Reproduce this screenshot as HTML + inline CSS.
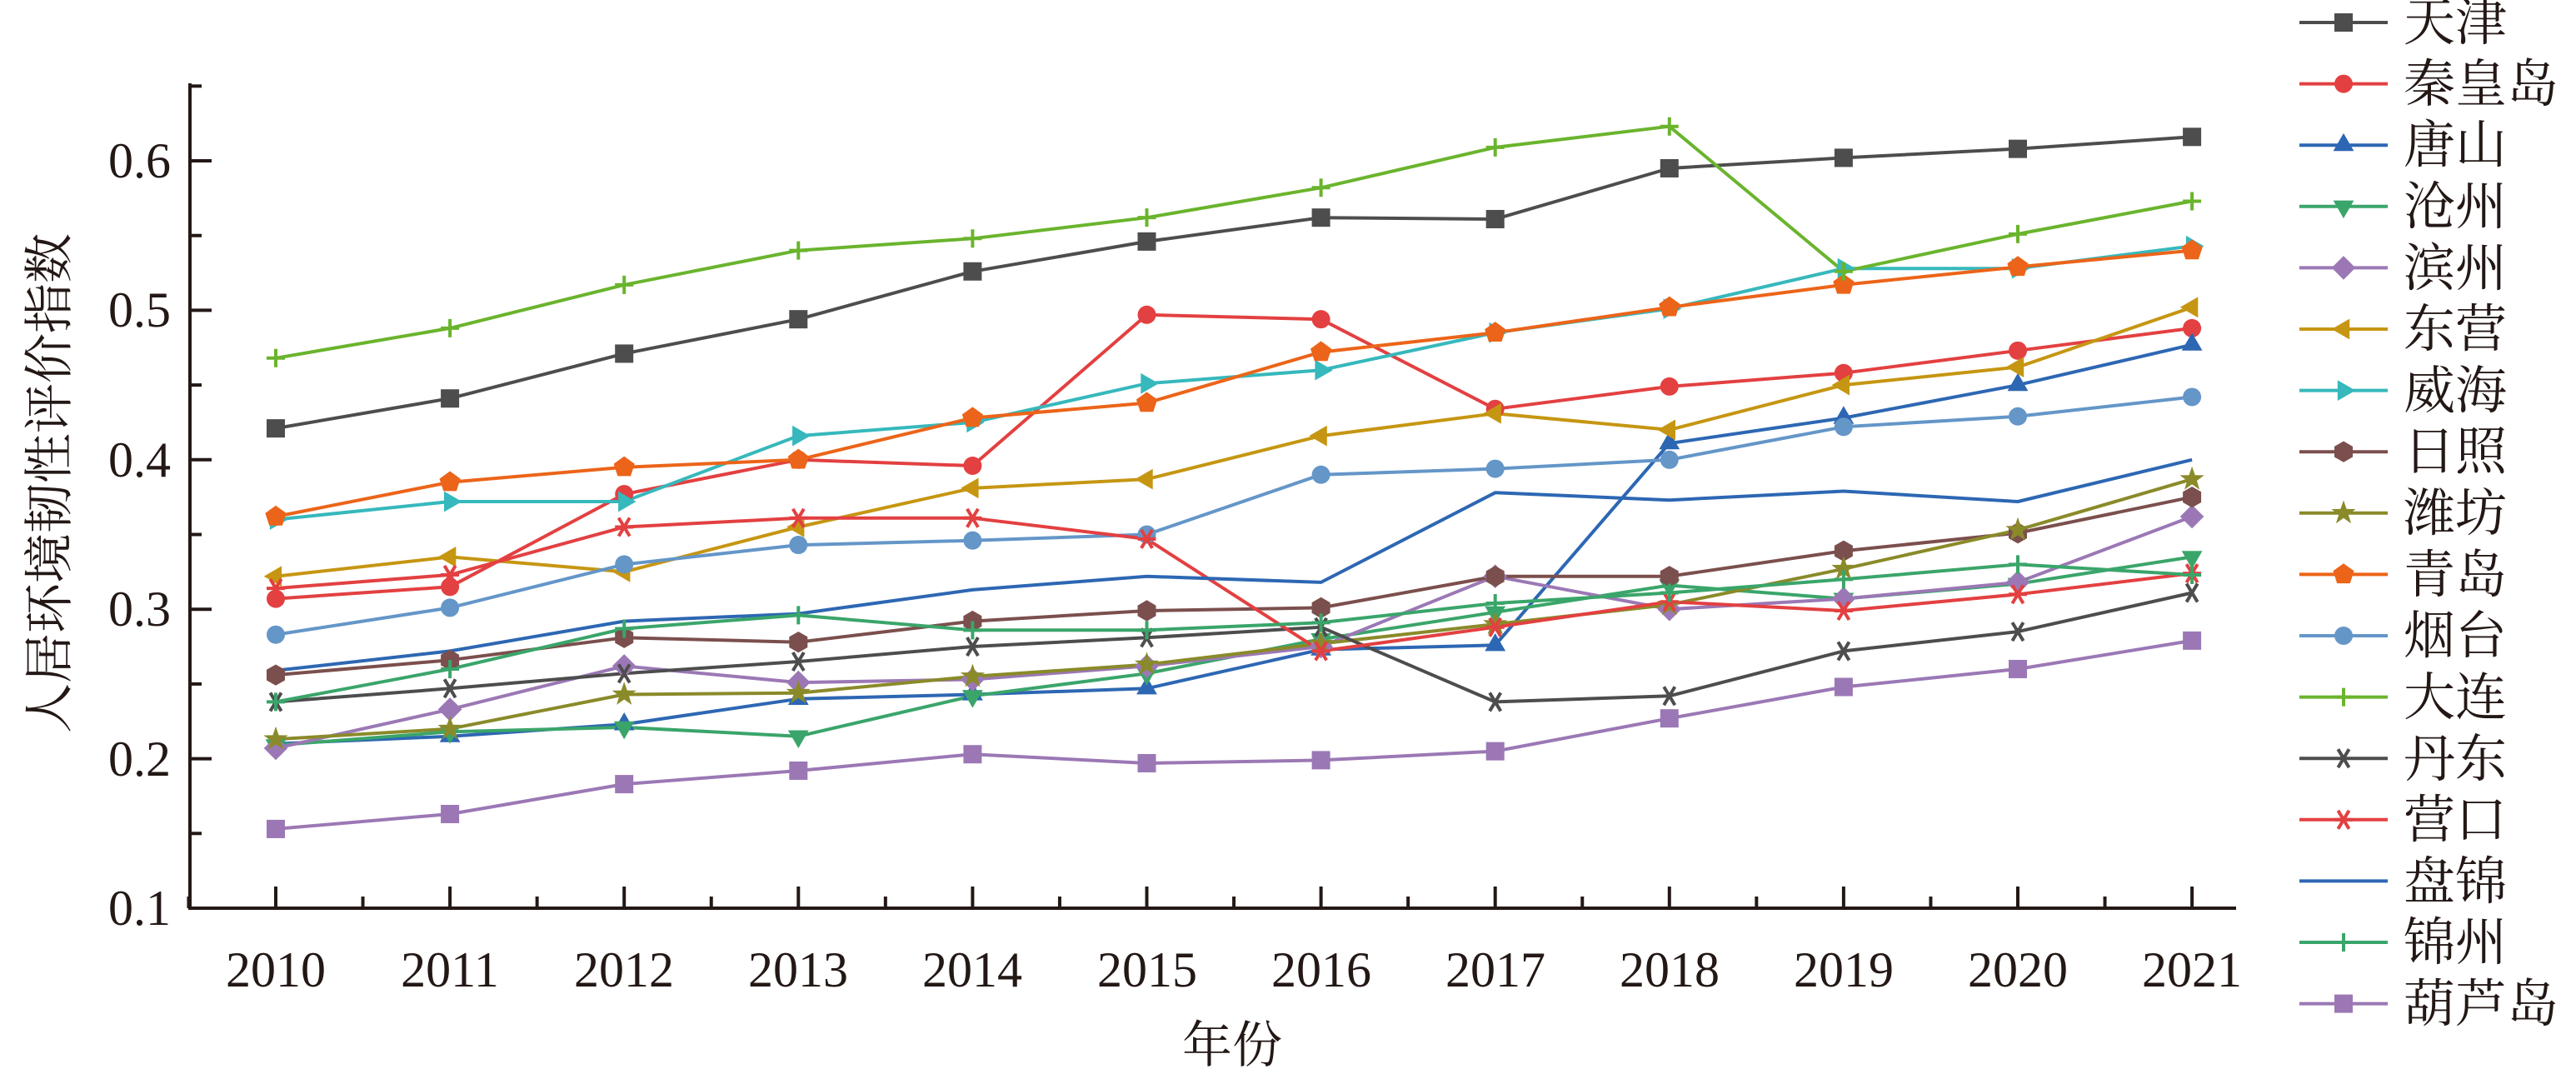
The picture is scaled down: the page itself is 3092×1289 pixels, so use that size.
<!DOCTYPE html>
<html><head><meta charset="utf-8">
<style>
html,body{margin:0;padding:0;background:#fff;}
svg{display:block;}
.t{font-family:"Liberation Serif","Noto Serif CJK SC",serif;fill:#231815;}
</style></head>
<body>
<svg id="s" width="3092" height="1289" viewBox="0 0 3092 1289" xmlns="http://www.w3.org/2000/svg">
<g id="axes" stroke="#231815" stroke-width="4" fill="none"></g>
<g id="data"></g>
<g id="leg"></g>
<g class="t" font-size="60" text-anchor="end" id="ylab">
<text x="205" y="1110">0.1</text>
<text x="205" y="931">0.2</text>
<text x="205" y="751">0.3</text>
<text x="205" y="572">0.4</text>
<text x="205" y="392">0.5</text>
<text x="205" y="213">0.6</text>
</g>
<g class="t" font-size="60" text-anchor="middle">
<text x="331" y="1184">2010</text><text x="540" y="1184">2011</text><text x="749" y="1184">2012</text>
<text x="958" y="1184">2013</text><text x="1167" y="1184">2014</text><text x="1377" y="1184">2015</text>
<text x="1586" y="1184">2016</text><text x="1795" y="1184">2017</text><text x="2004" y="1184">2018</text>
<text x="2213" y="1184">2019</text><text x="2422" y="1184">2020</text><text x="2631" y="1184">2021</text>
<text x="1479" y="1275" font-size="60">年份</text>
<text transform="translate(80,580) rotate(-90)" font-size="60">人居环境韧性评价指数</text>
</g>
<g class="t" font-size="62" id="legtext">
<text x="2885" y="48">天津</text><text x="2885" y="122">秦皇岛</text><text x="2885" y="195">唐山</text>
<text x="2885" y="269">沧州</text><text x="2885" y="343">滨州</text><text x="2885" y="416">东营</text>
<text x="2885" y="490">威海</text><text x="2885" y="563">日照</text><text x="2885" y="637">潍坊</text>
<text x="2885" y="711">青岛</text><text x="2885" y="784">烟台</text><text x="2885" y="858">大连</text>
<text x="2885" y="932">丹东</text><text x="2885" y="1005">营口</text><text x="2885" y="1079">盘锦</text>
<text x="2885" y="1152">锦州</text><text x="2885" y="1226">葫芦岛</text>
</g>
</svg>
<script>
var NS="http://www.w3.org/2000/svg";
function el(p,n,a){var e=document.createElementNS(NS,n);for(var k in a)e.setAttribute(k,a[k]);p.appendChild(e);return e;}
var X=function(i){return 331+209.1*i;};
var Y=function(v){return 1090-(v-0.1)*1794;};
var ax=document.getElementById('axes');
el(ax,'line',{x1:228,y1:100,x2:228,y2:1092});
el(ax,'line',{x1:226,y1:1090,x2:2684,y2:1090});
for(var v=0.1;v<0.66;v+=0.05){var y=Y(v);var maj=Math.abs(Math.round(v*10)-v*10)<0.01;el(ax,'line',{x1:228,y1:y,x2:228+(maj?26:14),y2:y});}
for(var i=-0.5;i<=11.1;i+=0.5){var x=X(i);var maj=(i%1===0);el(ax,'line',{x1:x,y1:1090,x2:x,y2:1090-(maj?26:14)});}
var S=[
["#4d4d4d","sq",[0.421,0.441,0.471,0.494,0.526,0.546,0.562,0.561,0.595,0.602,0.608,0.616]],
["#e34041","ci",[0.307,0.315,0.377,0.400,0.396,0.497,0.494,0.434,0.449,0.458,0.473,0.488]],
["#2d67b3","tu",[0.210,0.215,0.223,0.240,0.243,0.247,0.273,0.276,0.411,0.428,0.450,0.477]],
["#3aa56a","td",[0.209,0.218,0.221,0.215,0.242,0.257,0.280,0.298,0.316,0.307,0.317,0.335]],
["#9b78b5","di",[0.207,0.233,0.262,0.251,0.253,0.262,0.275,0.322,0.300,0.307,0.318,0.362]],
["#c69612","tl",[0.322,0.335,0.325,0.355,0.381,0.387,0.416,0.431,0.420,0.450,0.462,0.502]],
["#36b8bc","tr",[0.360,0.372,0.372,0.416,0.425,0.451,0.460,0.485,0.501,0.528,0.528,0.543]],
["#7b4f4d","hx",[0.256,0.266,0.281,0.278,0.292,0.299,0.301,0.322,0.322,0.339,0.351,0.375]],
["#8a8a2a","st",[0.213,0.220,0.243,0.244,0.255,0.263,0.277,0.290,0.303,0.327,0.353,0.387]],
["#ec6419","pe",[0.362,0.385,0.395,0.400,0.428,0.438,0.472,0.485,0.502,0.517,0.529,0.540]],
["#6496c8","ci",[0.283,0.301,0.330,0.343,0.346,0.350,0.390,0.394,0.400,0.422,0.429,0.442]],
["#6ab42d","pl",[0.468,0.488,0.517,0.540,0.548,0.562,0.582,0.609,0.623,0.526,0.551,0.573]],
["#4d4d4d","xx",[0.238,0.247,0.257,0.265,0.275,0.281,0.288,0.238,0.242,0.272,0.285,0.311]],
["#e34041","as",[0.314,0.323,0.355,0.361,0.361,0.347,0.272,0.288,0.305,0.299,0.310,0.324]],
["#2d67b3","no",[0.259,0.272,0.292,0.297,0.313,0.322,0.318,0.378,0.373,0.379,0.372,0.400]],
["#3aa56a","pl",[0.238,0.260,0.287,0.296,0.286,0.286,0.291,0.304,0.311,0.320,0.330,0.323]],
["#9b78b5","sq",[0.153,0.163,0.183,0.192,0.203,0.197,0.199,0.205,0.227,0.248,0.260,0.279]]
];
function poly(n,r,rot){var p=[];for(var k=0;k<n;k++){var a=rot+k*2*Math.PI/n;p.push([r*Math.cos(a),r*Math.sin(a)]);}return p;}
function mk(g,t,c,x,y){
 var r=11,pts=null;
 if(t=="sq"){el(g,'rect',{x:x-r,y:y-r,width:2*r,height:2*r,fill:c});return;}
 if(t=="ci"){el(g,'circle',{cx:x,cy:y,r:r,fill:c});return;}
 if(t=="tu")pts=poly(3,r*1.3,-Math.PI/2);
 if(t=="td")pts=poly(3,r*1.3,Math.PI/2);
 if(t=="tl")pts=poly(3,r*1.3,Math.PI);
 if(t=="tr")pts=poly(3,r*1.3,0);
 if(t=="di")pts=poly(4,r*1.3,0);
 if(t=="hx")pts=poly(6,r*1.15,Math.PI/2);
 if(t=="pe")pts=poly(5,r*1.2,-Math.PI/2);
 if(t=="st"){pts=[];for(var k=0;k<10;k++){var a=-Math.PI/2+k*Math.PI/5;var rr=k%2?r*0.55:r*1.4;pts.push([rr*Math.cos(a),rr*Math.sin(a)]);}}
 if(pts){el(g,'polygon',{points:pts.map(function(p){return (x+p[0]).toFixed(1)+","+(y+p[1]).toFixed(1);}).join(" "),fill:c});return;}
 var a={stroke:c,'stroke-width':4};
 if(t=="pl"){el(g,'path',Object.assign({d:"M"+(x-r)+" "+y+"H"+(x+r)+"M"+x+" "+(y-r)+"V"+(y+r)},a));}
 if(t=="xx"){el(g,'path',Object.assign({d:"M"+(x-r*0.6)+" "+(y-r)+"L"+(x+r*0.6)+" "+(y+r)+"M"+(x+r*0.6)+" "+(y-r)+"L"+(x-r*0.6)+" "+(y+r)},a));}
 if(t=="as"){el(g,'path',Object.assign({d:"M"+(x-r*0.6)+" "+(y-r)+"L"+(x+r*0.6)+" "+(y+r)+"M"+(x+r*0.6)+" "+(y-r)+"L"+(x-r*0.6)+" "+(y+r)+"M"+(x-r)+" "+y+"H"+(x+r)},a));}
}
var dg=document.getElementById('data'),lg=document.getElementById('leg');
S.forEach(function(s,idx){
 var d=s[2].map(function(v,i){return (i?"L":"M")+X(i).toFixed(1)+" "+Y(v).toFixed(1);}).join("");
 el(dg,'path',{d:d,stroke:s[0],'stroke-width':4,fill:'none','stroke-linejoin':'round'});
});
S.forEach(function(s){var g=el(dg,'g',{});s[2].forEach(function(v,i){mk(g,s[1],s[0],X(i),Y(v));});});
S.forEach(function(s,k){var y=27+73.6*k;el(lg,'line',{x1:2760,y1:y,x2:2866,y2:y,stroke:s[0],'stroke-width':4});mk(lg,s[1],s[0],2813,y);});
</script>
</body></html>
